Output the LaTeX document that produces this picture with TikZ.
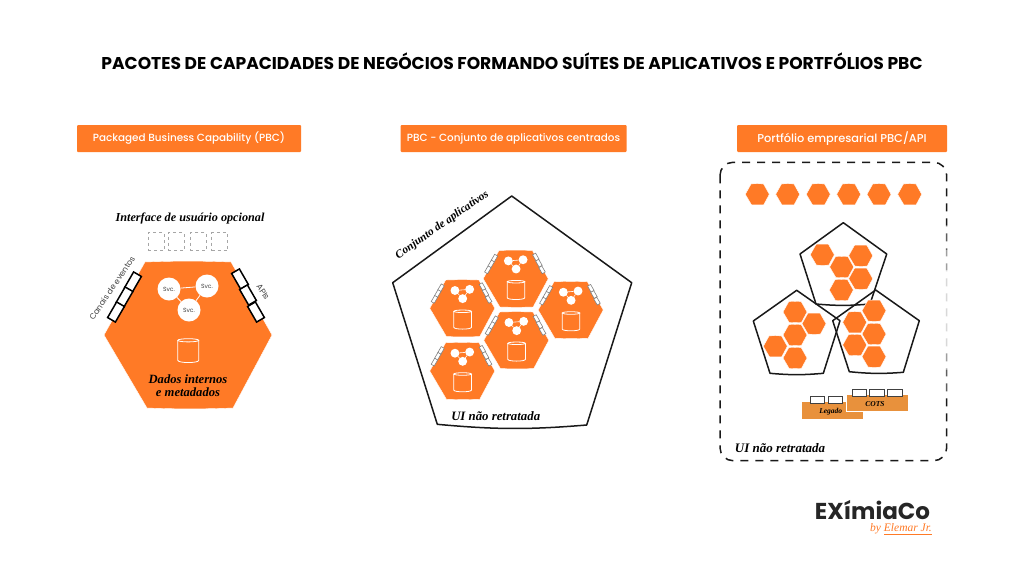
\documentclass[tikz,border=0pt]{standalone}
\usepackage{fontspec}
\setmainfont{Poppins}
\newfontfamily\medf{Poppins Medium}
\newfontfamily\hand{Liberation Serif}[ItalicFont=* Bold Italic]
\newfontfamily\handthin{Liberation Serif}
\definecolor{eximia}{HTML}{FF7A26}
\definecolor{legacy}{HTML}{E8913C}
\definecolor{labelc}{HTML}{444444}
\tikzset{
  x=1pt,y=-1pt,
  hexshape/.pic={\fill[eximia,draw=white,line width=.4pt,pic actions] (-43,-73) to[bend left=2] (43,-73) -- (84,0) -- (45,73) to[bend left=2] (-41,73) -- (-84,0) -- cycle;},
  portline/.style={line width=.6pt,draw=black!50},
  port/.style={portline,fill=white,minimum width=18pt,minimum height=9pt,inner sep=0pt,transform shape},
  svc/.style={circle,fill=white,minimum size=23pt,inner sep=0pt,font=\fontsize{6}{6}\selectfont,text=black!75,transform shape},
  svclink/.style={draw=white,line width=.6pt},
  pbc/.pic={
    \pic {hexshape};
    \node[port,rotate=60] (pl1) at (-55,-53) {};
    \node[port,rotate=60] (pl2) at (-63.5,-38) {};
    \node[port,rotate=60] (pl3) at (-72,-23) {};
    \node[port,rotate=-60] (pr1) at (52,-56) {};
    \node[port,rotate=-60] (pr2) at (60,-40) {};
    \node[port,rotate=-60] (pr3) at (68,-23) {};
    \node[svc] (s1) at (-19,-46) {#1};
    \node[svc] (s2) at (19,-49) {#1};
    \node[svc] (s3) at (1,-25) {#1};
    \draw[svclink] (s1) -- (s2);
    \draw[svclink] (s1) -- (s3);
    \draw[svclink] (s2) -- (s3);
  },
  cyl/.pic={
    \draw[white,line width=.8pt] (-10.5,-10) -- (-10.5,10) .. controls (-10.5,13) and (10.5,13) .. (10.5,10) -- (10.5,-10);
    \draw[white,line width=.8pt] (0,-10) ellipse [x radius=10.5pt,y radius=1.6pt];
  },
  tag/.style={fill=eximia,text=white,minimum height=27pt,inner sep=0pt,rounded corners=1pt},
  script/.style={text=black,inner sep=0pt,align=center},
  penta/.style={draw=black!90,line width=1.5pt,line join=round},
  small/.pic={\pic[scale=.143] {hexshape};},
  lpt/.style={draw=black!75,fill=white,line width=.8pt,minimum width=14.6pt,minimum height=7pt,inner sep=0pt},
}
\begin{document}
\begin{tikzpicture}
\path[use as bounding box,fill=white] (0,0) rectangle (1024,576);

\node[font=\fontsize{17.1}{19}\selectfont\bfseries,text=black,inner sep=0pt] (title) at (512,61) {PACOTES DE CAPACIDADES DE NEGÓCIOS FORMANDO SUÍTES DE APLICATIVOS E PORTFÓLIOS PBC};

\node[tag,minimum width=224pt,font=\medf\fontsize{10.4}{12}\selectfont] (t1) at (189,138.5) {Packaged Business Capability (PBC)};
\node[tag,minimum width=226pt,font=\medf\fontsize{10.4}{12}\selectfont] (t2) at (513.5,138.5) {PBC - Conjunto de aplicativos centrados};
\node[tag,minimum width=210pt,font=\medf\fontsize{11.4}{12}\selectfont] (t3) at (842,138.5) {Portfólio empresarial PBC/API};

% left panel
\node[script,font=\hand\itshape\fontsize{12.2}{14}\selectfont] (ui) at (190,218) {Interface de usuário opcional};
\foreach \i/\cx in {1/156,2/176,3/198.3,4/219.5}
  \node[draw=black!35,dash pattern=on 3pt off 3pt,line width=.7pt,minimum width=16pt,minimum height=18pt,inner sep=0pt] (d\i) at (\cx,241.7) {};
\pic[portline/.style={line width=1.5pt,draw=black},svclink/.style={draw=white,line width=.8pt}] (big) at (188,335) {pbc=Svc.};
\pic at (188.3,350.3) {cyl};
\node[script,font=\hand\itshape\fontsize{12.6}{13.5}\selectfont] (dados) at (188,385.5) {Dados internos\\e metadados};
\node[font=\fontsize{8}{10}\selectfont,text=labelc,rotate=56,inner sep=0pt] (canais) at (112,288) {Canais de eventos};
\node[font=\fontsize{8.2}{10}\selectfont,text=labelc,rotate=-56,inner sep=0pt] (apis) at (263,292) {APIs};

% middle panel
\draw[penta] (511.7,196) -- (631.7,282.7) -- (586.7,425) to[bend left=5] (437.3,424.3) -- (392.7,282.7) -- cycle;
\node[script,rotate=35,font=\hand\itshape\fontsize{11.4}{13}\selectfont] (conj) at (442.3,225) {Conjunto de aplicativos};
\foreach \n/\cx/\cy in {a/515.7/278.7,b/462.3/308.3,c/570.7/310,d/516.3/340.3,e/462.3/371}{
  \pic[scale=.387,transform shape] (\n) at (\cx,\cy) {pbc={}};
  \pic[xscale=.84,yscale=.8] at (\cx+.3,\cy+11) {cyl};
}
\node[script,font=\hand\itshape\fontsize{12.8}{13}\selectfont] (ui2) at (495.7,415.7) {UI não retratada};

% right panel
\draw[black!90,line width=1.5pt,dash pattern=on 8pt off 7pt,rounded corners=13pt] (720,162.3) rectangle (946.7,460.7);
\fill[white,opacity=.3] (941,225) rectangle (952,395);
\fill[white,opacity=.4] (941,250) rectangle (952,370);
\fill[white,opacity=.6] (941,270) rectangle (952,350);
\foreach \cx in {757.3,787.7,818.3,848.7,879,909.7}
  \pic at (\cx,194.3) {small};
\draw[penta] (843.3,222.7) -- (886.7,254) -- (870,304) to[bend left=5] (816,304) -- (800,254) -- cycle;
\draw[penta] (796.7,290.3) -- (840,320.7) -- (823.3,373.3) to[bend left=5] (770,373.3) -- (753.3,321) -- cycle;
\draw[penta] (875.7,290) -- (919.3,320.7) -- (903.3,372.3) to[bend left=5] (849.3,371.7) -- (832.7,320.7) -- cycle;
\foreach \cx/\cy in {822.3/254.7,841.7/267,860.7/255.7,860.7/278.7,841.3/290,795/312,814/323.7,795/335,775.3/346.3,795/358,874/310.7,854.7/322.3,874/334,854.7/345,874/356.7}
  \pic at (\cx,\cy) {small};

\node[fill=legacy,minimum width=61.6pt,minimum height=16.7pt,inner sep=0pt] (leg) at (832.5,410.7) {};
\node[lpt] (l1) at (817.5,400.3) {};
\node[lpt] (l2) at (835.3,400.3) {};
\node[script,font=\hand\itshape\fontsize{7.5}{8}\selectfont] (legt) at (830.7,411.7) {Legado};
\node[fill=legacy,draw=white,line width=.6pt,minimum width=61.6pt,minimum height=16.7pt,inner sep=0pt] (cots) at (877.5,402.7) {};
\node[lpt] (c1) at (859.3,392.5) {};
\node[lpt] (c2) at (877,392.5) {};
\node[lpt] (c3) at (895,392.5) {};
\node[script,font=\hand\itshape\fontsize{7.5}{8}\selectfont] (cotst) at (875,404) {COTS};
\node[script,font=\hand\itshape\fontsize{13}{13}\selectfont] (ui3) at (780,448.3) {UI não retratada};

% logo
\node[font=\fontsize{23}{24}\selectfont\bfseries,text=black!85,inner sep=0pt] (logo) at (872.5,510) {EXímiaCo};
\node[font=\handthin\itshape\fontsize{11.5}{12}\selectfont,text=eximia,inner sep=0pt] (by) at (901,529) {by Elemar Jr.};
\coordinate (ua) at (884,534);
\coordinate (ub) at (932,534);
\draw[eximia,line width=.5pt] (ua) -- (ub);
\end{tikzpicture}
\end{document}
